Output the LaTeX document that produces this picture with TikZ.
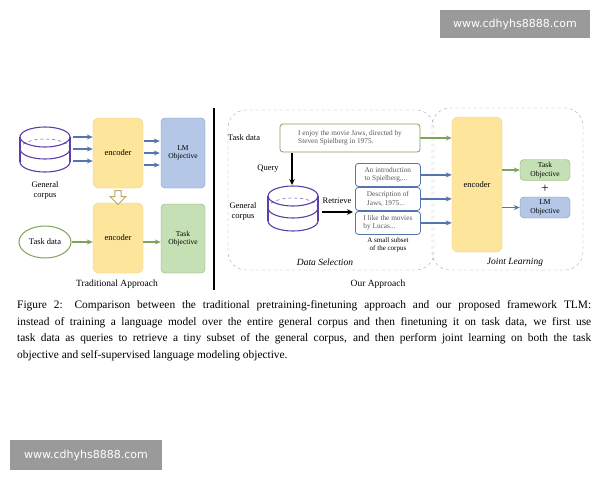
\documentclass[tikz,border=0pt]{standalone}
\usepackage{fontspec}
\setmainfont{Liberation Serif}
\newfontfamily\wmfont{DejaVu Sans}
\usetikzlibrary{arrows.meta,shapes.arrows,shapes.geometric}
\definecolor{enc}{HTML}{FDE59C}
\definecolor{encb}{HTML}{F0D080}
\definecolor{lmb}{HTML}{B4C7E7}
\definecolor{lmd}{HTML}{7E97C4}
\definecolor{tko}{HTML}{C5E0B4}
\definecolor{tkd}{HTML}{8DB073}
\definecolor{pur}{HTML}{5B3FA8}
\definecolor{barr}{HTML}{5674AE}
\definecolor{garr}{HTML}{7FA35C}
\definecolor{wm}{HTML}{9A9A9A}
\tikzset{
 enc/.style={draw=encb,fill=enc,rounded corners=6pt,font=\fontsize{8.5}{9}\selectfont},
 lmo/.style={draw=lmd,fill=lmb,rounded corners=4pt,align=center,font=\fontsize{7.5}{8.5}\selectfont},
 tko/.style={draw=tkd,fill=tko,rounded corners=4pt,align=center,font=\fontsize{7.5}{8.5}\selectfont},
 ba/.style={-{Stealth[length=6pt,width=5pt]},barr,line width=1.3pt},
 ga/.style={-{Stealth[length=6pt,width=5pt]},garr,line width=1.3pt},
 ka/.style={-{Stealth[length=6pt,width=5.5pt]},black,line width=1.3pt},
 lab/.style={font=\fontsize{8.5}{10}\selectfont,align=center},
 sm/.style={font=\fontsize{7.3}{8.5}\selectfont,align=left,text=black!65,inner sep=2pt},
 rbox/.style={draw=barr,line width=0.8pt,rounded corners=3pt,fill=white},
 cyl/.style={pur,line width=1.1pt},
 dbox/.style={draw=black!35,dashed,rounded corners=18pt},
 wmk/.style={fill=wm,text=white,font=\wmfont\fontsize{11}{12}\selectfont},
}
\newcommand{\mycyl}[3]{% x, ytop, name
 \draw[cyl] (#1,#2) ellipse (25 and 10);
 \draw[cyl,dashed,line width=0.5pt] (#1-25,#2+12) arc (180:360:25 and 10);
 \draw[cyl] (#1-25,#2+12) arc (180:360:25 and -10);
 \draw[cyl] (#1-25,#2+25) arc (180:360:25 and -10);
 \draw[cyl] (#1-25,#2) -- (#1-25,#2+25);
 \draw[cyl] (#1+25,#2) -- (#1+25,#2+25);
 \coordinate (#3) at (#1,#2+12);
}
\begin{document}
\begin{tikzpicture}[x=1pt,y=-1pt]
\useasboundingbox[fill=white] (0,0) rectangle (600,480);
% watermarks
\node[wmk,minimum width=150,minimum height=28] (w1) at (515,24) {www.cdhyhs8888.com};
\node[wmk,minimum width=152,minimum height=30] (w2) at (86,455) {www.cdhyhs8888.com};
% ---- traditional
\mycyl{45}{137}{gc1}
\node[lab] (gcl) at (45,190) {General\\corpus};
\node[enc,minimum width=50,minimum height=70] (e1) at (118,153) {encoder};
\node[lmo,minimum width=44,minimum height=70] (lm1) at (183,153) {LM\\Objective};
\foreach \y in {-12,0,12}{
 \draw[ba] ([yshift=\y]gc1.center) ++(28,0) coordinate (s) -- (s -| e1.west);
 \draw[ba] ([yshift=\y]e1.east) ++(1,0) -- ([yshift=\y,xshift=-1]lm1.west);
}
\node[enc,minimum width=50,minimum height=70] (e2) at (118,238) {encoder};
\node[single arrow,shape border rotate=270,draw=encb!80!black,line width=0.9pt,fill=white,minimum height=14,minimum width=16,single arrow head extend=3,inner sep=1.5] (da) at (118,196) {};
\node[draw=garr,line width=1pt,ellipse,minimum width=52,minimum height=32,inner sep=0,font=\fontsize{8.5}{9}\selectfont] (td1) at (45,242) {Task data};
\node[tko,minimum width=44,minimum height=69] (to1) at (183,238.5) {Task\\Objective};
\draw[ga] (td1.east) -- (td1.east -| e2.west);
\draw[ga] (e2.east |- td1.east) -- (to1.west |- td1.east);
\node[lab,font=\fontsize{9.5}{10}\selectfont] (ta) at (117,284) {Traditional Approach};
\coordinate (v1) at (214,108); \coordinate (v2) at (214,290);
\draw[line width=1.4pt] (v1) -- (v2);
% ---- our approach
\draw[dbox] (228,110) rectangle (434,270);
\draw[dbox] (432,108) rectangle (583,270);
\node[lab] (tdl) at (244,138) {Task data};
\node[draw=garr,line width=0.8pt,rounded corners=3pt,minimum width=140,minimum height=28,sm,align=left] (tb) at (350,138) {I enjoy the movie Jaws, directed by\\Steven Spielberg in 1975.};
\node[enc,minimum width=50,minimum height=135] (e3) at (477,184.5) {encoder};
\draw[ga] (tb.east) -- (tb.east -| e3.west);
\mycyl{293}{196}{gc2}
\draw[ka] (292,153) -- (292,185);
\node[lab] (ql) at (268,169) {Query};
\node[lab] (gcl2) at (243,211) {General\\corpus};
\node[lab] (rl) at (337,201) {Retrieve};
\draw[ka] (322,212) -- (353,212);
\node[rbox,sm,minimum width=65,minimum height=23,anchor=north west] (r1) at (355,163) {An introduction\\to Spielberg,...};
\node[rbox,sm,minimum width=65,minimum height=23,anchor=north west] (r2) at (355,187) {Description of\\Jaws, 1975...};
\node[rbox,sm,minimum width=65,minimum height=23,anchor=north west] (r3) at (355,211) {I like the movies\\by Lucas...};
\node[lab,font=\fontsize{7}{8}\selectfont] (ss) at (388,245) {A small subset\\of the corpus};
\foreach \r in {r1,r2,r3} \draw[ba] (\r.east) -- (\r.east -| e3.west);
\node[lab,font=\fontsize{9.5}{10}\itshape] (dsl) at (325,262) {Data Selection};
\node[tko,minimum width=50,minimum height=21,inner sep=1pt] (to2) at (545,170) {Task\\Objective};
\node[font=\fontsize{13}{13}\selectfont] (pl) at (545,188.5) {+};
\node[lmo,minimum width=50,minimum height=21,inner sep=1pt] (lm2) at (545,207.5) {LM\\Objective};
\draw[ga] (e3.east |- to2.west) -- (to2.west);
\draw[ba] (e3.east |- lm2.west) -- (lm2.west);
\node[lab,font=\fontsize{9.5}{10}\itshape] (jll) at (515,262) {Joint Learning};
\node[lab,font=\fontsize{9.5}{10}\selectfont] (oa) at (378,284) {Our Approach};
% caption
\node[anchor=north west,inner sep=0,font=\fontsize{11.4}{16.8}\selectfont,align=left] (cap) at (17,300) {%
\makebox[574pt][s]{Figure 2: Comparison between the traditional pretraining-finetuning approach and our proposed framework TLM:}\\
\makebox[574pt][s]{instead of training a language model over the entire general corpus and then finetuning it on task data, we first use}\\
\makebox[574pt][s]{task data as queries to retrieve a tiny subset of the general corpus, and then perform joint learning on both the task}\\
objective and self-supervised language modeling objective.};
\end{tikzpicture}
\end{document}
